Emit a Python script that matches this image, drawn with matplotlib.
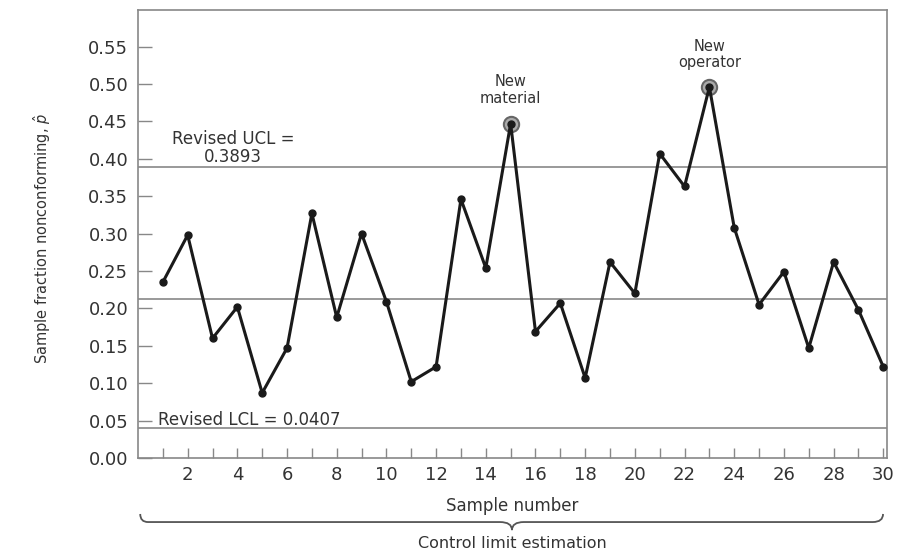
import matplotlib
matplotlib.use('Agg')
import matplotlib.pyplot as plt
import matplotlib.path as mpath
import matplotlib.patches as mpatches
import numpy as np

# Fraction nonconforming per sample
samples = np.arange(1, 31)
p_hat = [0.235, 0.298, 0.160, 0.202, 0.087, 0.147, 0.327, 0.188, 0.300, 0.209,
         0.102, 0.122, 0.346, 0.254, 0.447, 0.169, 0.207, 0.107, 0.262, 0.220,
         0.407, 0.363, 0.496, 0.308, 0.205, 0.249, 0.147, 0.262, 0.198, 0.122]

ucl = 0.3893
center = 0.2120
lcl = 0.0407

flagged = [15, 23]
flag_labels = ['New\nmaterial', 'New\noperator']
flag_text_y = [0.492, 0.539]

y_ticks = np.arange(0, 0.551, 0.05)
x_ticks = np.arange(2, 31, 2)

txt = '#333333'
grey = '#888888'

fig = plt.figure(figsize=(9.03, 5.56), dpi=100)
ax = fig.add_axes([0.1528, 0.1763, 0.8295, 0.8058])

# control limits
for level in (ucl, center, lcl):
    ax.axhline(level, color=grey, lw=1.2, zorder=1)

# out-of-control points get a grey ring
idx = [s - 1 for s in flagged]
ax.plot(samples[idx], np.array(p_hat)[idx], 'o', ms=11, mfc='#aaaaaa', mec='#666666',
        mew=1.5, zorder=2)
ax.plot(samples, p_hat, '-o', color='#1a1a1a', lw=2.2, ms=5, zorder=3)

for s, lab, ty in zip(flagged, flag_labels, flag_text_y):
    ax.text(s, ty, lab, ha='center', va='center', fontsize=10.5, color=txt,
            linespacing=1.1)

ax.text(3.82, 0.414, 'Revised UCL =\n0.3893', ha='center', va='center', fontsize=12,
        color=txt, linespacing=1.0)
ax.text(0.8, 0.051, 'Revised LCL = 0.0407', ha='left', va='center', fontsize=12,
        color=txt)

ax.set_xlim(0, 30.15)
ax.set_ylim(0, 0.599)
ax.set_yticks(y_ticks)
ax.set_yticklabels([f'{v:.2f}' for v in y_ticks])
ax.set_xticks(x_ticks)
ax.set_xticks(samples, minor=True)
ax.tick_params(axis='y', direction='in', length=10, width=1, color=grey, pad=7,
               labelsize=13, labelcolor=txt)
ax.tick_params(axis='x', which='both', direction='in', length=7, width=1, color=grey,
               pad=6, labelsize=13, labelcolor=txt)
for sp in ax.spines.values():
    sp.set_color(grey)
    sp.set_linewidth(1.2)

ax.set_ylabel('Sample fraction nonconforming, $\\hat{p}$', fontsize=10.5, color=txt)
ax.yaxis.set_label_coords(-0.113, 0.489)
ax.set_xlabel('Sample number', fontsize=12, color=txt)
ax.xaxis.set_label_coords(0.4993, -0.087)

# brace under the axis covering all samples
Path = mpath.Path
verts = [(0.003, -0.125), (0.003, -0.143), (0.0134, -0.143),
         (0.4833, -0.143),
         (0.4993, -0.143), (0.4993, -0.161),
         (0.4993, -0.143), (0.515, -0.143),
         (0.981, -0.143),
         (0.9947, -0.143), (0.9947, -0.125)]
codes = [Path.MOVETO, Path.CURVE3, Path.CURVE3,
         Path.LINETO,
         Path.CURVE3, Path.CURVE3,
         Path.CURVE3, Path.CURVE3,
         Path.LINETO,
         Path.CURVE3, Path.CURVE3]
brace = mpatches.PathPatch(Path(verts, codes), fill=False, ec='#555555', lw=1.3,
                           transform=ax.transAxes, clip_on=False)
ax.add_patch(brace)
ax.text(0.4993, -0.19, 'Control limit estimation', transform=ax.transAxes,
        ha='center', va='center', fontsize=11.5, color=txt)

fig.savefig('out.png', dpi=100)
